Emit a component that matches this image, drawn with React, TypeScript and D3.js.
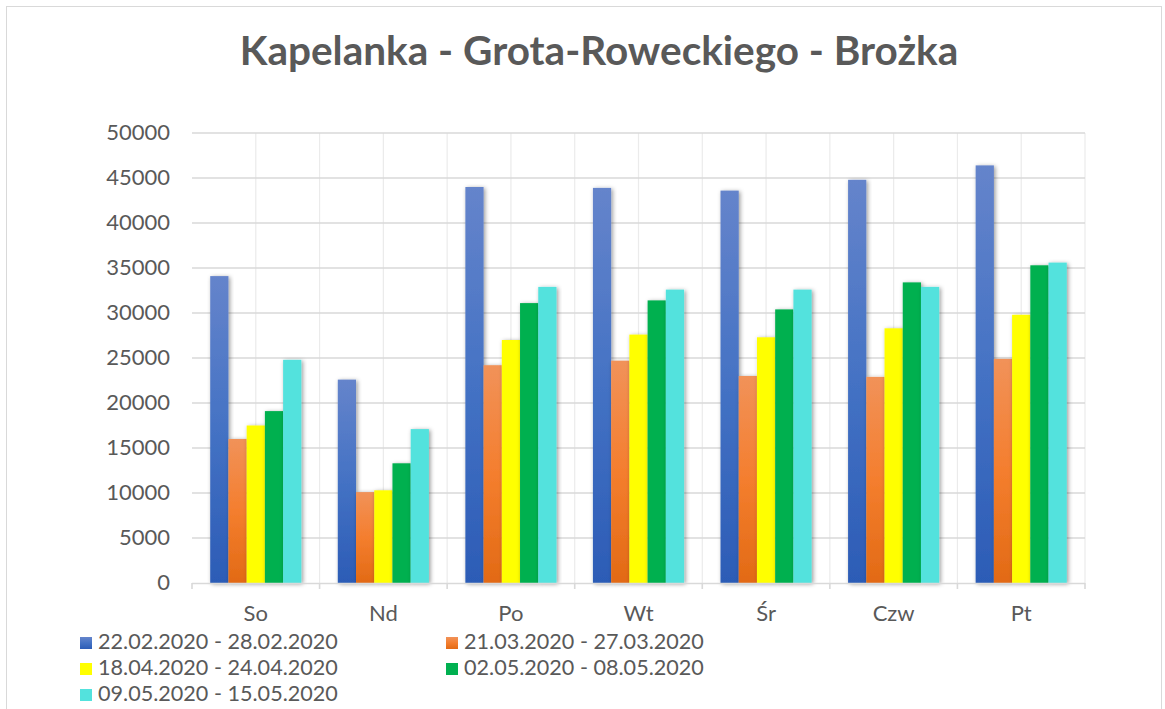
import React, { useEffect, useRef } from "react";
import * as d3 from "d3";

const days = ["So", "Nd", "Po", "Wt", "Śr", "Czw", "Pt"];
const seriesNames = [
  "22.02.2020 - 28.02.2020",
  "21.03.2020 - 27.03.2020",
  "18.04.2020 - 24.04.2020",
  "02.05.2020 - 08.05.2020",
  "09.05.2020 - 15.05.2020",
];
const week1 = [34100, 22600, 44000, 43900, 43600, 44800, 46400];
const week2 = [16000, 10100, 24200, 24700, 23000, 22900, 24900];
const week3 = [17500, 10300, 27000, 27600, 27300, 28300, 29800];
const week4 = [19100, 13300, 31100, 31400, 30400, 33400, 35300];
const week5 = [24800, 17100, 32900, 32600, 32600, 32900, 35600];
const yTicks = [0, 5000, 10000, 15000, 20000, 25000, 30000, 35000, 40000, 45000, 50000];

const seriesValues = [week1, week2, week3, week4, week5];
const fills = ["url(#gBlue)", "url(#gOrange)", "#ffff00", "#00b050", "#53e2dd"];

const W = 1165;
const H = 709;

export default function App() {
  const ref = useRef<SVGSVGElement>(null);

  useEffect(() => {
    document.body.style.margin = "0";
    const svg = d3.select(ref.current);
    svg.selectAll("*").remove();

    const margin = { top: 133, left: 192, right: 80, bottom: 126 };
    const x0 = d3
      .scaleBand()
      .domain(days)
      .range([margin.left, W - margin.right])
      .padding(0);
    const groupW = (x0.bandwidth() * 5) / 7;
    const x1 = d3
      .scaleBand()
      .domain(seriesNames)
      .range([0, groupW])
      .padding(0);
    const y = d3
      .scaleLinear()
      .domain([0, 50000])
      .range([H - margin.bottom, margin.top]);

    const defs = svg.append("defs");
    const grad = (id: string, stops: string[]) => {
      const g = defs
        .append("linearGradient")
        .attr("id", id)
        .attr("x1", 0)
        .attr("y1", 0)
        .attr("x2", 0)
        .attr("y2", 1);
      stops.forEach((c, i) =>
        g.append("stop").attr("offset", i / (stops.length - 1)).attr("stop-color", c)
      );
    };
    grad("gBlue", ["#6584cb", "#4472c4", "#2c5cb6"]);
    grad("gOrange", ["#f19259", "#f47e2e", "#e26a15"]);
    const f = defs
      .append("filter")
      .attr("id", "shadow")
      .attr("x", "-30%")
      .attr("y", "-5%")
      .attr("width", "160%")
      .attr("height", "110%");
    f.append("feDropShadow")
      .attr("dx", 1.5)
      .attr("dy", 1)
      .attr("stdDeviation", 2)
      .attr("flood-color", "#000")
      .attr("flood-opacity", 0.4);

    // chart frame
    svg
      .append("rect")
      .attr("x", 6.5)
      .attr("y", 6.5)
      .attr("width", W - 10)
      .attr("height", H + 10)
      .attr("fill", "#fff")
      .attr("stroke", "#d9d9d9");

    svg
      .append("text")
      .attr("x", 599)
      .attr("y", 65)
      .attr("text-anchor", "middle")
      .style("font-family", "Lato")
      .style("font-weight", "bold")
      .style("font-size", "40.5px")
      .attr("fill", "#595959")
      .text("Kapelanka - Grota-Roweckiego - Brożka");

    // vertical gridlines at boundaries and midpoints
    const vLines: number[] = [];
    days.forEach((d) => {
      vLines.push(x0(d)! + x0.bandwidth() / 2);
      vLines.push(x0(d)! + x0.bandwidth());
    });
    svg
      .append("g")
      .selectAll("line")
      .data(vLines)
      .join("line")
      .attr("x1", (d) => d)
      .attr("x2", (d) => d)
      .attr("y1", y(50000))
      .attr("y2", y(0))
      .attr("stroke", "#ebebeb")
      .attr("stroke-width", 1.2);

    svg
      .append("g")
      .selectAll("line")
      .data(yTicks.slice(1))
      .join("line")
      .attr("x1", margin.left)
      .attr("x2", W - margin.right)
      .attr("y1", (d) => y(d))
      .attr("y2", (d) => y(d))
      .attr("stroke", "#d9d9d9")
      .attr("stroke-width", 1.3);

    svg
      .append("g")
      .selectAll("text")
      .data(yTicks)
      .join("text")
      .attr("x", 170)
      .attr("y", (d) => y(d))
      .attr("dy", "0.34em")
      .attr("text-anchor", "end")
      .style("font-family", "Lato")
      .style("font-size", "22px")
      .attr("fill", "#595959")
      .text((d) => d);

    // bars
    const groups = svg
      .append("g")
      .selectAll("g")
      .data(days)
      .join("g")
      .attr("transform", (d) => `translate(${x0(d)! + (x0.bandwidth() - groupW) / 2},0)`);
    groups
      .selectAll("rect")
      .data((d, i) => seriesNames.map((s, k) => ({ s, k, v: seriesValues[k][i] })))
      .join("rect")
      .attr("x", (d) => x1(d.s)!)
      .attr("width", x1.bandwidth())
      .attr("y", (d) => y(d.v))
      .attr("height", (d) => y(0) - y(d.v))
      .attr("fill", (d) => fills[d.k])
      .attr("filter", "url(#shadow)");

    // x axis
    const ax = svg.append("g");
    ax.append("line")
      .attr("x1", margin.left)
      .attr("x2", W - margin.right)
      .attr("y1", y(0) + 0.5)
      .attr("y2", y(0) + 0.5)
      .attr("stroke", "#d9d9d9")
      .attr("stroke-width", 1.6);
    const tickX = [margin.left, ...days.map((d) => x0(d)! + x0.bandwidth())];
    ax.selectAll("line.tk")
      .data(tickX)
      .join("line")
      .attr("class", "tk")
      .attr("x1", (d) => d)
      .attr("x2", (d) => d)
      .attr("y1", y(0))
      .attr("y2", y(0) + 6)
      .attr("stroke", "#d9d9d9")
      .attr("stroke-width", 1.6);
    ax.selectAll("text")
      .data(days)
      .join("text")
      .attr("x", (d) => x0(d)! + x0.bandwidth() / 2)
      .attr("y", 621)
      .attr("text-anchor", "middle")
      .style("font-family", "Lato")
      .style("font-size", "22px")
      .attr("fill", "#595959")
      .text((d) => d);

    // legend
    const legend = svg
      .append("g")
      .selectAll("g")
      .data(seriesNames)
      .join("g")
      .attr("transform", (d, i) => `translate(${i % 2 === 0 ? 80 : 446},${649 + Math.floor(i / 2) * 26})`);
    legend
      .append("rect")
      .attr("x", 0)
      .attr("y", -12)
      .attr("width", 12)
      .attr("height", 12)
      .attr("fill", (d, i) => fills[i]);
    legend
      .append("text")
      .attr("x", 18)
      .attr("y", 0)
      .style("font-family", "Lato")
      .style("font-size", "21.6px")
      .attr("fill", "#595959")
      .text((d) => d);
  }, []);

  return <svg ref={ref} width={W} height={H} style={{ display: "block" }} />;
}
